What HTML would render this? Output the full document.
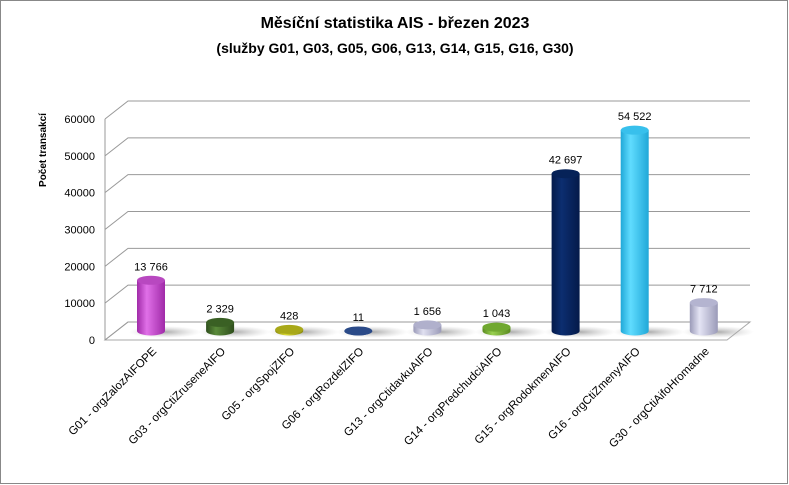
<!DOCTYPE html>
<html><head><meta charset="utf-8"><style>
body{margin:0;background:#fff;}
svg{display:block;font-family:"Liberation Sans",sans-serif;}
</style></head><body>
<svg width="789" height="485" viewBox="0 0 789 485">
<defs>
<radialGradient id="shadow" cx="50%" cy="50%" r="50%"><stop offset="0" stop-color="#888" stop-opacity="0.7"/><stop offset="1" stop-color="#bbb" stop-opacity="0"/></radialGradient>
</defs>
<rect x="0.5" y="0.5" width="787" height="483" fill="#fff" stroke="#888"/>
<text x="395" y="28" text-anchor="middle" font-size="16" font-weight="bold">Měsíční statistika AIS -  březen 2023</text>
<text x="395" y="53" text-anchor="middle" font-size="14" font-weight="bold">(služby G01, G03, G05, G06, G13, G14, G15, G16, G30)</text>
<text transform="translate(46,150) rotate(-90)" text-anchor="middle" font-size="10" font-weight="bold">Počet transakcí</text>
<g id="grid"></g>
<g id="bars"></g>
<g id="labels"></g>
</svg>
<script>
const categories=["G01 - orgZalozAIFOPE","G03 - orgCtiZruseneAIFO","G05 - orgSpojZIFO","G06 - orgRozdelZIFO","G13 - orgCtidavkuAIFO","G14 - orgPredchudciAIFO","G15 - orgRodokmenAIFO","G16 - orgCtiZmenyAIFO","G30 - orgCtiAifoHromadne"];
const values=[13766,2329,428,11,1656,1043,42697,54522,7712];
const valueLabels=["13 766","2 329","428","11","1 656","1 043","42 697","54 522","7 712"];
const ticks=[0,10000,20000,30000,40000,50000,60000];
const colors=[["#a02aa8","#e070e8","#b848c0"],["#2e4e1c","#5a8a3a","#3a6024"],["#8a8a10","#d8d830","#a8a818"],["#203c78","#4a6aa8","#2a4a88"],["#9a9ab8","#e0e0f0","#b0b0cc"],["#5a8a20","#98d050","#70a830"],["#041a4a","#0c2e70","#062258"],["#20a8d8","#60dcff","#38c0ec"],["#9a9ab8","#e4e4f4","#b4b4d0"]];
const NS="http://www.w3.org/2000/svg";
const X0=105,X1=727,DX=23,DY=-18,YMAX=60000;
const yFront=v=>340-v/YMAX*221;
const yMid=v=>331-v/YMAX*221;
const xc=i=>151+i*69.1;
function mk(t,a,p){const e=document.createElementNS(NS,t);for(const k in a)e.setAttribute(k,a[k]);p.appendChild(e);return e;}
const grid=document.getElementById('grid'),bars=document.getElementById('bars'),labels=document.getElementById('labels');
let fl=mk('polygon',{points:`${X0},340 ${X1},340 ${X1+DX},${340+DY} ${X0+DX},${340+DY}`,fill:'#fff',stroke:'#aaa'},grid);


ticks.forEach(t=>{
  const y=yFront(t);
  const g=mk('polyline',{points:`${X0},${y} ${X0+DX},${y+DY} ${X1+DX},${y+DY}`,fill:'none',stroke:'#999','stroke-width':1},grid);
  
  
  const tl=mk('text',{x:95,y:y+4,'text-anchor':'end','font-size':11},labels);
  tl.textContent=t;
  
  
});
const ax=mk('line',{x1:X0,y1:yFront(0),x2:X0,y2:yFront(60000),stroke:'#999'},grid);


const W=14,RY=4.5;
values.forEach((v,i)=>{
  const cx=xc(i),yb=yMid(0),yt=yMid(v),c=colors[i];
  const sh=mk('ellipse',{cx:cx+14,cy:yb+1,rx:36,ry:6,fill:'url(#shadow)'},bars);
  
  
  const gid='g'+i;
  const lg=mk('linearGradient',{id:gid,x1:0,x2:1,y1:0,y2:0},bars);
  mk('stop',{offset:0,'stop-color':c[0]},lg);mk('stop',{offset:0.35,'stop-color':c[1]},lg);mk('stop',{offset:1,'stop-color':c[0]},lg);
  const body=mk('path',{d:`M${cx-W},${yt} L${cx-W},${yb} A${W},${RY} 0 0 0 ${cx+W},${yb} L${cx+W},${yt} Z`,fill:`url(#${gid})`},bars);
  
  
  const top=mk('ellipse',{cx:cx,cy:yt,rx:W,ry:RY,fill:c[2]},bars);
  
  
  const vl=mk('text',{x:cx,y:yt-10,'text-anchor':'middle','font-size':11},labels);
  vl.textContent=valueLabels[i];
  
  
  const cl=mk('text',{transform:`translate(${cx+6},352) rotate(-45)`,'text-anchor':'end','font-size':11.5},labels);
  cl.textContent=categories[i];
  
  
});
</script>
</body></html>
